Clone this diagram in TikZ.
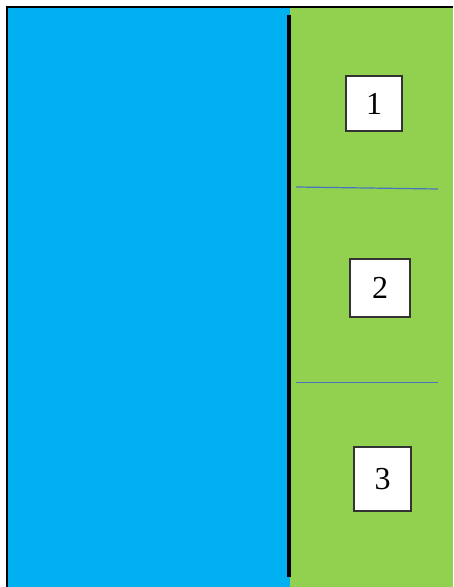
\documentclass[tikz,border=0pt]{standalone}
\usepackage{fontspec}
\setmainfont{Liberation Serif}
\definecolor{skyblue}{HTML}{00B0F0}
\definecolor{leafgreen}{HTML}{92D050}
\definecolor{sepblue}{HTML}{4A74C0}
\begin{document}
\begin{tikzpicture}[x=1pt,y=-1pt,
  numbox/.style={draw=black!80,line width=1.3pt,fill=white,inner sep=0pt,font=\fontsize{32}{36}\selectfont},
  sepline/.style={draw=sepblue,line width=1.2pt}]
\useasboundingbox (0,0) rectangle (453,587);
\fill[skyblue] (7,7) rectangle (290,587);
\fill[leafgreen] (290,7) rectangle (453,587);
\draw[line width=2.4pt] (7,587) -- (7,7) -- (453,7);
\coordinate (dtop) at (289,15);
\coordinate (dbot) at (289,577);
\draw[line width=3.5pt] (dtop) -- (dbot);
\node[numbox,minimum width=56pt,minimum height=55pt] (b1) at (374,103.5) {1};
\node[numbox,minimum width=60pt,minimum height=58pt] (b2) at (380,288) {2};
\node[numbox,minimum width=57pt,minimum height=64pt] (b3) at (382.5,479) {3};
\coordinate (l1a) at (296,187);
\coordinate (l1b) at (438,189);
\coordinate (l2a) at (296,382.5);
\coordinate (l2b) at (438,382.5);
\draw[sepline] (l1a) -- (l1b);
\draw[sepline] (l2a) -- (l2b);
\end{tikzpicture}
\end{document}
